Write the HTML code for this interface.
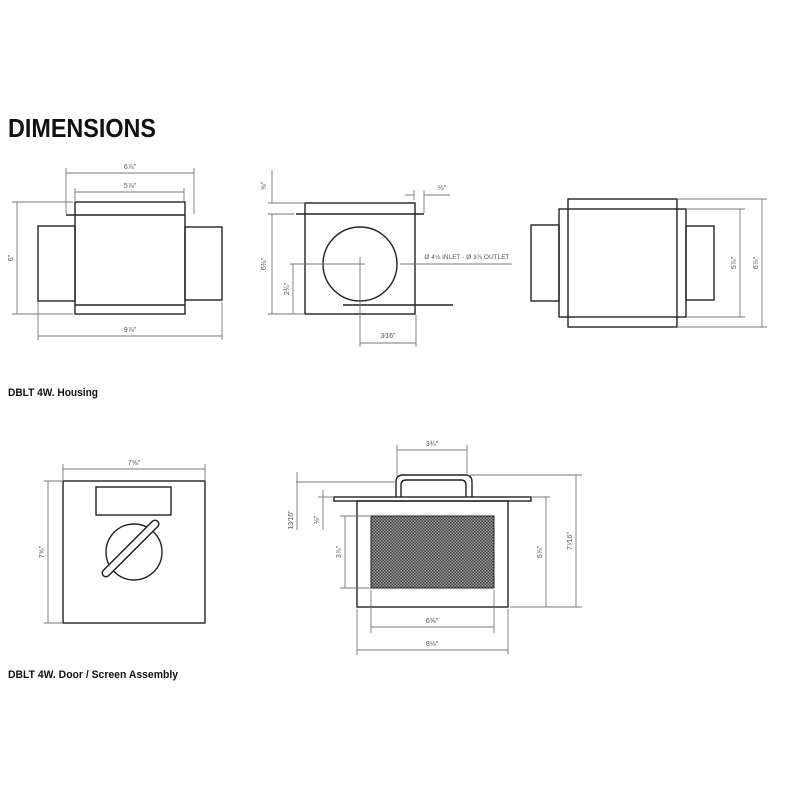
<!DOCTYPE html>
<html><head><meta charset="utf-8"><style>body{margin:0;background:#fff}svg{display:block}</style></head><body>
<svg width="800" height="800" viewBox="0 0 800 800" xmlns="http://www.w3.org/2000/svg" font-family="Liberation Sans, sans-serif">
<defs>
<pattern id="m" width="3" height="3" patternUnits="userSpaceOnUse"><rect width="3" height="3" fill="#999"/><rect width="1.5" height="1.5" fill="#444"/><rect x="1.5" y="1.5" width="1.5" height="1.5" fill="#444"/></pattern>
</defs>
<rect width="800" height="800" fill="#fff"/>
<text x="8" y="137" font-size="26" font-weight="bold" textLength="148" lengthAdjust="spacingAndGlyphs" fill="#111">DIMENSIONS</text>
<text x="8" y="396" font-size="11" font-weight="bold" textLength="90" lengthAdjust="spacingAndGlyphs" fill="#111">DBLT 4W. Housing</text>
<text x="8" y="678" font-size="11" font-weight="bold" textLength="170" lengthAdjust="spacingAndGlyphs" fill="#111">DBLT 4W. Door / Screen Assembly</text>

<g fill="none" stroke="#222" stroke-width="1.4">
<!-- left housing -->
<rect x="75" y="202" width="110" height="112"/>
<line x1="66" y1="215" x2="185" y2="215"/>
<line x1="75" y1="305" x2="185" y2="305"/>
<rect x="38" y="226" width="37" height="75"/>
<rect x="185" y="227" width="37" height="73"/>
<!-- middle -->
<rect x="305" y="203" width="110" height="111"/>
<line x1="296" y1="214" x2="424" y2="214"/>
<circle cx="360" cy="264" r="37"/>
<line x1="343" y1="305" x2="453" y2="305"/>
<!-- right housing -->
<rect x="568" y="199" width="109" height="128"/>
<rect x="559" y="209" width="127" height="108"/>
<rect x="531" y="225" width="28" height="76"/>
<rect x="686" y="226" width="28" height="74"/>
<!-- door -->
<rect x="63" y="481" width="142" height="142"/>
<rect x="96" y="487" width="75" height="28"/>
<circle cx="134" cy="552" r="28"/>
<!-- screen -->
<rect x="357" y="501" width="151" height="106"/>
<rect x="334" y="497" width="197" height="4"/>
<path d="M396 497 V482 Q396 475 403 475 H465 Q472 475 472 482 V497"/>
<path d="M401 497 V485 Q401 480 406 480 H461 Q466 480 466 485 V497"/>
</g>
<line x1="106" y1="573" x2="155" y2="524" stroke="#222" stroke-width="9" stroke-linecap="round"/>
<line x1="106" y1="573" x2="155" y2="524" stroke="#fff" stroke-width="6" stroke-linecap="round"/>
<rect x="371" y="516" width="123" height="72" fill="url(#m)" stroke="#222" stroke-width="1"/>

<g fill="none" stroke="#777" stroke-width="0.9">
<!-- left dims -->
<line x1="66" y1="173" x2="194" y2="173"/><line x1="66" y1="168" x2="66" y2="214"/><line x1="194" y1="168" x2="194" y2="214"/>
<line x1="75" y1="192" x2="184" y2="192"/><line x1="75" y1="188" x2="75" y2="202"/><line x1="184" y1="188" x2="184" y2="202"/>
<line x1="17" y1="202" x2="17" y2="314"/><line x1="12" y1="202" x2="73" y2="202"/><line x1="12" y1="314" x2="73" y2="314"/>
<line x1="38" y1="336" x2="222" y2="336"/><line x1="38" y1="302" x2="38" y2="340"/><line x1="222" y1="302" x2="222" y2="340"/>
<!-- middle dims -->
<line x1="290" y1="264" x2="365" y2="264"/><line x1="400" y1="264" x2="512" y2="264"/>
<line x1="360" y1="257" x2="360" y2="347"/>
<line x1="360" y1="343" x2="416" y2="343"/><line x1="416" y1="315" x2="416" y2="347"/>
<line x1="272" y1="170" x2="272" y2="203"/><line x1="268" y1="203" x2="304" y2="203"/><line x1="268" y1="214" x2="294" y2="214"/>
<line x1="272" y1="214" x2="272" y2="314"/><line x1="268" y1="314" x2="304" y2="314"/>
<line x1="293" y1="264" x2="293" y2="314"/>
<line x1="414" y1="190" x2="414" y2="200"/><line x1="424" y1="190" x2="424" y2="213"/><line x1="405" y1="195" x2="414" y2="195"/><line x1="424" y1="195" x2="450" y2="195"/>
<!-- right dims -->
<line x1="740" y1="209" x2="740" y2="317"/><line x1="686" y1="209" x2="745" y2="209"/><line x1="686" y1="317" x2="745" y2="317"/>
<line x1="762" y1="199" x2="762" y2="327"/><line x1="677" y1="199" x2="767" y2="199"/><line x1="677" y1="327" x2="767" y2="327"/>
<!-- door dims -->
<line x1="63" y1="469" x2="205" y2="469"/><line x1="63" y1="464" x2="63" y2="480"/><line x1="205" y1="464" x2="205" y2="480"/>
<line x1="48" y1="481" x2="48" y2="623"/><line x1="44" y1="481" x2="62" y2="481"/><line x1="44" y1="623" x2="62" y2="623"/>
<!-- screen dims -->
<line x1="397" y1="450" x2="467" y2="450"/><line x1="397" y1="445" x2="397" y2="476"/><line x1="467" y1="445" x2="467" y2="476"/>
<line x1="296" y1="482" x2="396" y2="482"/><line x1="297" y1="472" x2="297" y2="530"/>
<line x1="318" y1="497" x2="333" y2="497"/><line x1="323" y1="490" x2="323" y2="530"/>
<line x1="340" y1="516" x2="371" y2="516"/><line x1="340" y1="588" x2="371" y2="588"/><line x1="345" y1="516" x2="345" y2="588"/>
<line x1="546" y1="497" x2="546" y2="607"/><line x1="531" y1="497" x2="550" y2="497"/>
<line x1="576" y1="475" x2="576" y2="607"/><line x1="470" y1="475" x2="582" y2="475"/><line x1="510" y1="607" x2="582" y2="607"/>
<line x1="371" y1="627" x2="494" y2="627"/><line x1="371" y1="590" x2="371" y2="633"/><line x1="494" y1="590" x2="494" y2="633"/>
<line x1="357" y1="650" x2="508" y2="650"/><line x1="357" y1="609" x2="357" y2="655"/><line x1="508" y1="609" x2="508" y2="655"/>
</g>

<g font-size="7" fill="#555" text-anchor="middle">
<text x="130" y="169">6⅞"</text>
<text x="130" y="188">5⅞"</text>
<text x="130" y="332">9⅞"</text>
<text transform="translate(13,258) rotate(-90)">6"</text>
<text transform="translate(266,186) rotate(-90)">⅝"</text>
<text transform="translate(266,264) rotate(-90)">6⅜"</text>
<text transform="translate(289,289) rotate(-90)">2¾"</text>
<text x="442" y="190">½"</text>
<text x="388" y="338">3⁄16"</text>
<text x="467" y="259" font-size="6.5">Ø 4⅛ INLET - Ø 3⅞ OUTLET</text>
<text transform="translate(736,263) rotate(-90)">5⅞"</text>
<text transform="translate(758,263) rotate(-90)">6⅞"</text>
<text x="134" y="465">7⅝"</text>
<text transform="translate(44,552) rotate(-90)">7⅝"</text>
<text x="432" y="446">3¾"</text>
<text transform="translate(293,520) rotate(-90)">13⁄16"</text>
<text transform="translate(319,520) rotate(-90)">⅜"</text>
<text transform="translate(341,552) rotate(-90)">3⅞"</text>
<text transform="translate(542,552) rotate(-90)">5⅞"</text>
<text transform="translate(572,541) rotate(-90)">7⁷⁄16"</text>
<text x="432" y="623">6⅝"</text>
<text x="432" y="646">8⅛"</text>
</g>
</svg>
</body></html>
